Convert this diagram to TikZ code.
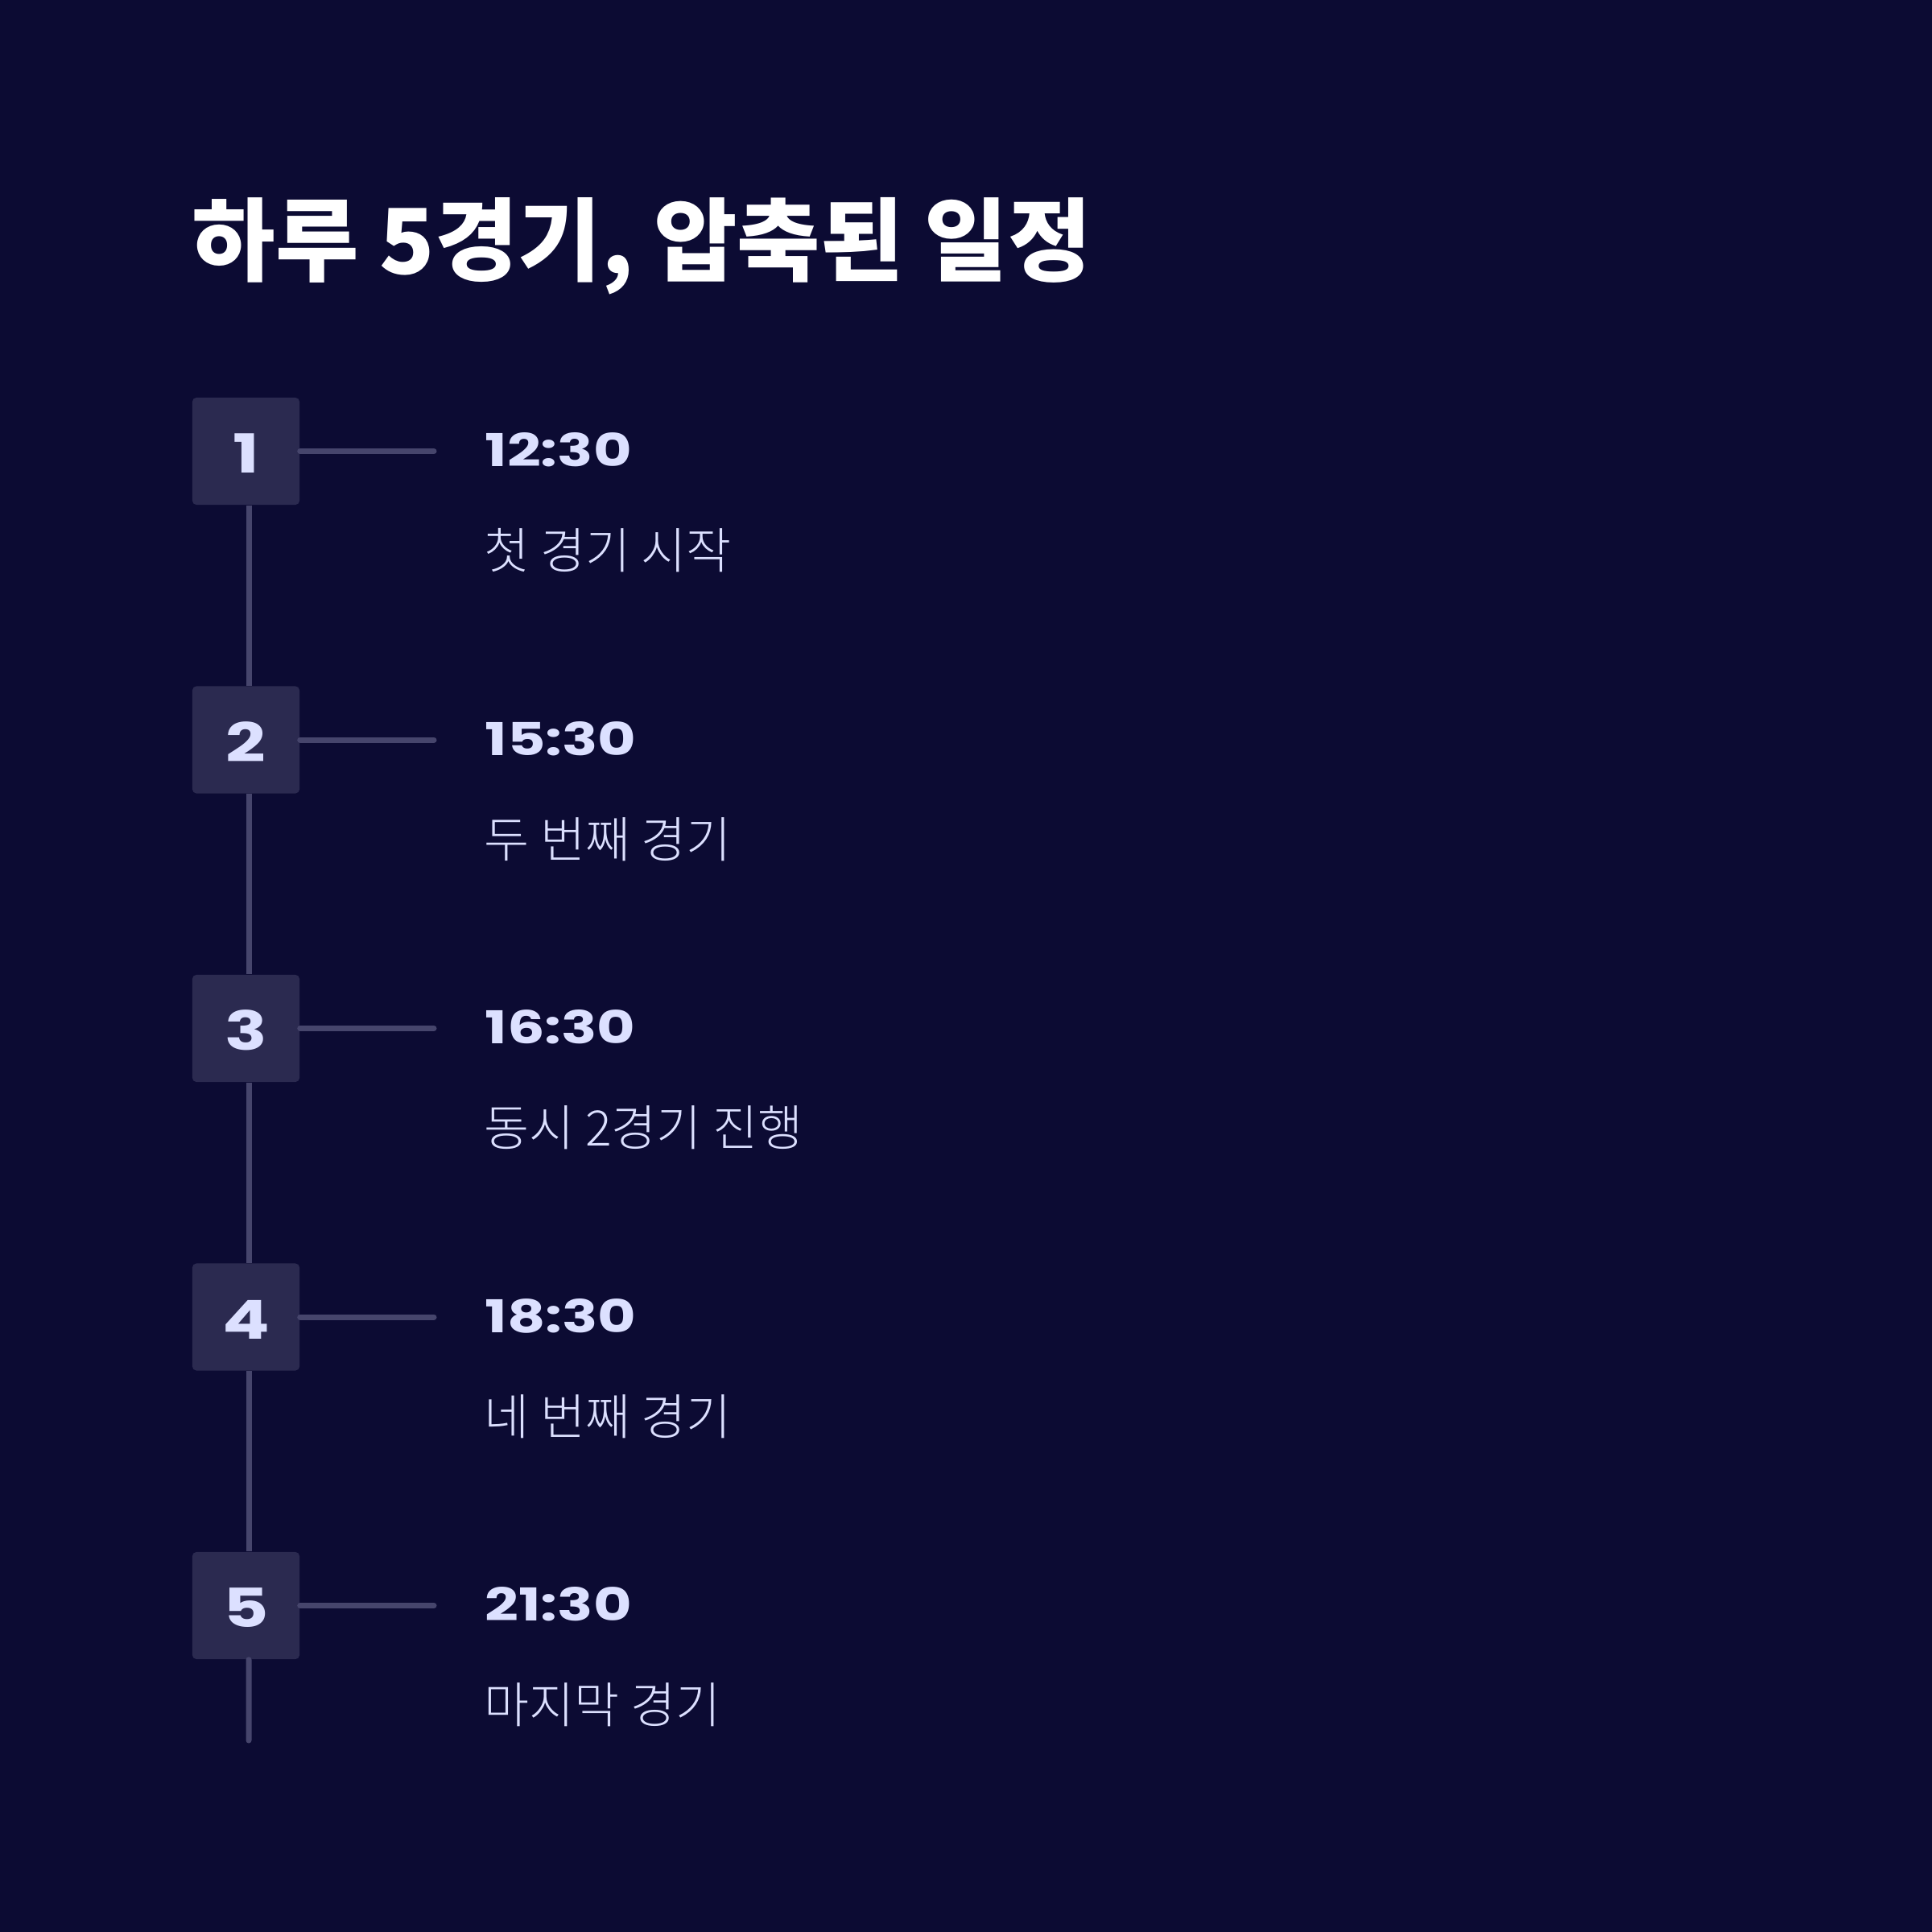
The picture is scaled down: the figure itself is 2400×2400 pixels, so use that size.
\documentclass[tikz,border=0pt]{standalone}
\usepackage{fontspec}
\setmainfont{Noto Sans CJK KR}
\newfontfamily\krfont{Noto Sans CJK KR}
\newfontfamily\krlight{Noto Sans CJK KR Light}
\newfontfamily\numfont[FakeStretch=1.3]{Poppins}
\definecolor{bg}{HTML}{0C0B33}
\definecolor{boxc}{HTML}{2B2A50}
\definecolor{linec}{HTML}{46456C}
\definecolor{txt}{HTML}{DCE0FF}
\tikzset{
  numbox/.style={fill=boxc, draw=none, rounded corners=0.05cm, minimum width=1.33cm, minimum height=1.33cm, inner sep=0pt},
  numlabel/.style={anchor=base, inner sep=0pt, text=txt, font=\numfont\bfseries\fontsize{19pt}{19pt}\selectfont},
  timelabel/.style={anchor=base west, inner sep=0pt, text=txt, font=\numfont\bfseries\fontsize{16pt}{16pt}\selectfont},
  desclabel/.style={anchor=base west, inner sep=0pt, text=txt, font=\krlight\fontsize{17.3pt}{17.3pt}\selectfont},
  conn/.style={draw=linec, line width=0.07cm, line cap=round},
  vconn/.style={draw=linec, line width=0.07cm},
}
\begin{document}
\begin{tikzpicture}[x=0.01cm, y=-0.01cm]
\fill[bg] (0,0) rectangle (2400,2400);
\useasboundingbox (0,0) rectangle (2400,2400);
\node[anchor=base west, inner sep=0pt, text=white, font=\krfont\bfseries\fontsize{32pt}{32pt}\selectfont] (title) at (238,340) {하루 5경기, 압축된 일정};
\foreach \i/\t/\d in {1/12:30/첫 경기 시작, 2/15:30/두 번째 경기, 3/16:30/동시 2경기 진행, 4/18:30/네 번째 경기, 5/21:30/마지막 경기}{
  \pgfmathsetmacro{\yc}{560.5+358.5*(\i-1)}
  \node[numbox] (b\i) at (305.5,\yc) {};
  \node[numlabel] (n\i) at (305.5,\yc+27) {\i};
  \coordinate (h\i) at (539,\yc);
  \draw[conn] (b\i.east) -- (h\i);
  \node[timelabel] (t\i) at (602,\yc+19) {\t};
  \node[desclabel] (d\i) at (601,\yc+146) {\d};
}
\foreach \i/\j in {1/2,2/3,3/4,4/5}{
  \draw[vconn] ([xshift=0.035cm]b\i.south) -- ([xshift=0.035cm]b\j.north);
}
\coordinate (e5) at (309,2162);
\draw[conn] ([xshift=0.035cm]b5.south) -- (e5);
\end{tikzpicture}
\end{document}
